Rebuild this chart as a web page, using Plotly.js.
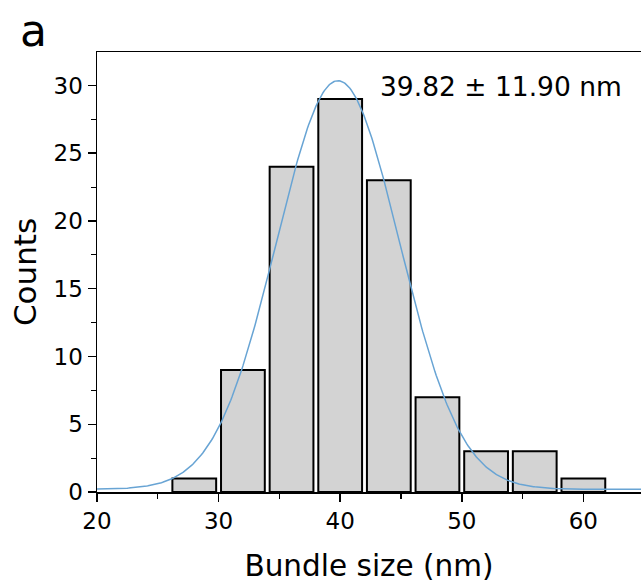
<!DOCTYPE html>
<html>
<head>
<meta charset="utf-8">
<script src="https://cdn.plot.ly/plotly-3.0.1.min.js"></script>
<style>
  html, body { margin: 0; padding: 0; background: #ffffff; }
  #chart { width: 641px; height: 588px; }
</style>
</head>
<body>
<div id="chart"></div>
<script>
// Histogram of bundle sizes (bin width 4 nm)
const binCenters = [28, 32, 36, 40, 44, 48, 52, 56, 60];
const counts = [1, 9, 24, 29, 23, 7, 3, 3, 1];

// Gaussian fit: centre and FWHM (nm), peak height and baseline (counts)
const fitCenter = 39.82;
const fitFwhm = 11.90;
const fitHeight = 30.15;
const fitBaseline = 0.2;

const FONT = 'DejaVu Sans, Liberation Sans, Arial, sans-serif';

// Evaluate the fitted Gaussian along the x axis
const sigma = fitFwhm / (2 * Math.sqrt(2 * Math.log(2)));
const fitX = [];
const fitY = [];
for (let i = 0; i <= 460; i++) {
  const x = 20 + i * 0.1;
  fitX.push(x);
  fitY.push(fitBaseline + fitHeight * Math.exp(-Math.pow(x - fitCenter, 2) / (2 * sigma * sigma)));
}

const bars = {
  type: 'bar',
  x: binCenters,
  y: counts,
  width: 3.6,
  marker: { color: '#d3d3d3', line: { color: '#000000', width: 2 } },
  hoverinfo: 'x+y',
  showlegend: false
};

const fit = {
  type: 'scatter',
  mode: 'lines',
  x: fitX,
  y: fitY,
  line: { color: '#68a4d4', width: 1.5 },
  hoverinfo: 'skip',
  showlegend: false
};

const layout = {
  width: 641,
  height: 588,
  margin: { l: 97, r: 0, t: 52, b: 96 },
  paper_bgcolor: '#ffffff',
  plot_bgcolor: '#ffffff',
  font: { family: FONT, color: '#000000' },
  showlegend: false,
  xaxis: {
    range: [20, 64.74],
    tickmode: 'linear',
    tick0: 20,
    dtick: 10,
    ticks: 'outside',
    ticklen: 8,
    tickwidth: 1.5,
    tickcolor: '#000000',
    minor: { dtick: 5, ticks: 'outside', ticklen: 5, tickwidth: 1.2, tickcolor: '#000000' },
    showline: true,
    mirror: true,
    linecolor: '#000000',
    linewidth: 1.5,
    showgrid: false,
    zeroline: false,
    tickfont: { family: FONT, size: 23, color: '#000000' },
    title: { text: 'Bundle size (nm)', font: { family: FONT, size: 29.5, color: '#000000' }, standoff: 22 }
  },
  yaxis: {
    range: [0, 32.47],
    tickmode: 'linear',
    tick0: 0,
    dtick: 5,
    ticks: 'outside',
    ticklen: 8,
    tickwidth: 1.5,
    tickcolor: '#000000',
    minor: { dtick: 2.5, ticks: 'outside', ticklen: 5, tickwidth: 1.2, tickcolor: '#000000' },
    showline: true,
    mirror: false,
    linecolor: '#000000',
    linewidth: 1.5,
    showgrid: false,
    zeroline: false,
    tickfont: { family: FONT, size: 23, color: '#000000' },
    title: { text: 'Counts', font: { family: FONT, size: 31, color: '#000000' }, standoff: 8 }
  },
  annotations: [
    {
      xref: 'paper', yref: 'paper',
      x: 0.742, y: 0.922,
      xanchor: 'center', yanchor: 'middle',
      text: fitCenter.toFixed(2) + ' ± ' + fitFwhm.toFixed(2) + ' nm',
      showarrow: false,
      font: { family: FONT, size: 26.5, color: '#000000' }
    },
    {
      xref: 'paper', yref: 'paper',
      x: -0.1176, y: 1.048,
      xanchor: 'center', yanchor: 'middle',
      text: 'a',
      showarrow: false,
      font: { family: FONT, size: 44, color: '#000000' }
    }
  ]
};

Plotly.newPlot('chart', [bars, fit], layout, { displayModeBar: false, staticPlot: true });
</script>
</body>
</html>
